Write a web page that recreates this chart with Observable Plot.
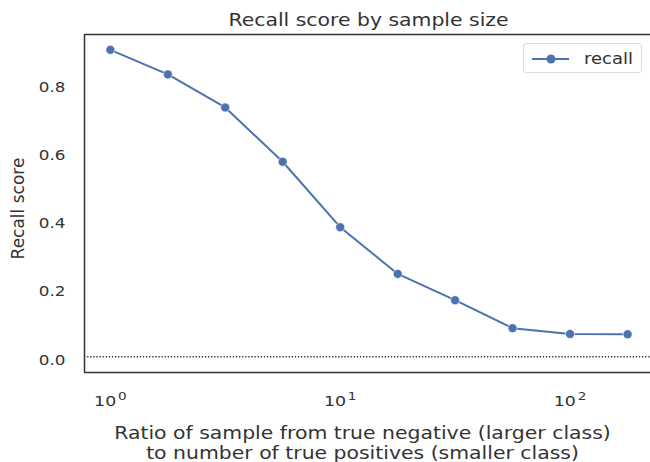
<!DOCTYPE html>
<html>
<head>
<meta charset="utf-8">
<script src="https://cdn.jsdelivr.net/npm/d3@7"></script>
<script src="https://cdn.jsdelivr.net/npm/@observablehq/plot@0.6"></script>
<style>
  html, body { margin: 0; padding: 0; background: #fff; }
  #wrap { position: relative; width: 650px; height: 462px; font-family: "DejaVu Sans", sans-serif; }
  #legend { position: absolute; left: 523px; top: 43px; width: 119px; height: 30px; box-sizing: border-box;
            border: 1px solid #dcdcdc; border-radius: 3px; background: #fff; }
  #legend svg { position: absolute; left: 0; top: 0; }
</style>
</head>
<body>
<div id="wrap"></div>
<script>
const ratios = [1, 1.78, 3.16, 5.62, 10, 17.8, 31.6, 56.2, 100, 178];
const recall = [0.91, 0.838, 0.741, 0.582, 0.39, 0.253, 0.176, 0.094, 0.077, 0.076];
const baseline = [0.01];
const xTicks = [1, 10, 100];
const xTickExponents = ["0", "1", "2"];
const yTicks = [0, 0.2, 0.4, 0.6, 0.8];
const seriesName = "recall";
const titleText = ["Recall score by sample size"];
const xLabel = ["Ratio of sample from true negative (larger class)\nto number of true positives (smaller class)"];
const yLabel = ["Recall score"];

const data = ratios.map((r, i) => ({ratio: r, recall: recall[i]}));
const xDomain = [Math.pow(10, -0.1125), Math.pow(10, 2.35)];
const yDomain = [-0.036, 0.955];
const blue = "#4c72b0";
const ink = "#333333";
const stretch = 1.2;

const chart = Plot.plot({
  width: 650,
  height: 462,
  marginLeft: 84,
  marginRight: 0,
  marginTop: 34,
  marginBottom: 90,
  style: {fontFamily: "DejaVu Sans, sans-serif", fontSize: "13px", color: ink, background: "white"},
  x: {type: "log", domain: xDomain},
  y: {domain: yDomain},
  marks: [
    Plot.axisX(xTicks, {tickSize: 0, tickPadding: 23, tickFormat: (d) => "10^" + xTickExponents[xTicks.indexOf(d)], fontSize: 14.5, label: null, fill: ink}),
    Plot.axisY(yTicks, {tickSize: 0, tickPadding: 19, tickFormat: d3.format(".1f"), fontSize: 14, label: null, fill: ink}),
    Plot.ruleY(baseline, {stroke: ink, strokeWidth: 1.5, strokeDasharray: "1.3,1.8"}),
    Plot.ruleY([yDomain[0], yDomain[1]], {stroke: ink, strokeWidth: 1.5}),
    Plot.ruleX([xDomain[0]], {stroke: ink, strokeWidth: 1.5}),
    Plot.line(data, {x: "ratio", y: "recall", stroke: blue, strokeWidth: 2}),
    Plot.dot(data, {x: "ratio", y: "recall", r: 4.5, fill: blue, stroke: "white", strokeWidth: 0.6}),
    Plot.text(titleText, {frameAnchor: "top", dy: -14, dx: 1, lineAnchor: "middle", textAnchor: "middle", fontSize: 17, fill: ink, text: (d) => d}),
    Plot.text(yLabel, {frameAnchor: "left", dx: -66, dy: 5, rotate: -90, textAnchor: "middle", lineAnchor: "middle", fontSize: 17, fill: ink, text: (d) => d}),
    Plot.text(xLabel, {frameAnchor: "bottom", dy: 70, dx: -5, lineAnchor: "middle", textAnchor: "middle", lineHeight: 1.18, fontSize: 17, fill: ink, text: (d) => d})
  ]
});
const wrap = document.getElementById("wrap");
wrap.appendChild(chart);

// superscript exponents on the x tick labels
chart.querySelectorAll('g[aria-label="x-axis tick label"] text').forEach((t) => {
  const s = t.textContent;
  if (s.includes("^")) {
    const [base, exp] = s.split("^");
    t.textContent = "";
    const a = document.createElementNS("http://www.w3.org/2000/svg", "tspan");
    a.textContent = base;
    const b = document.createElementNS("http://www.w3.org/2000/svg", "tspan");
    b.textContent = exp;
    b.setAttribute("font-size", "0.78em");
    b.setAttribute("dy", "-0.55em");
    b.setAttribute("dx", "1.5");
    t.appendChild(a);
    t.appendChild(b);
  }
});

// horizontal stretch of horizontal texts (the reference image is widened)
function stretchText(t) {
  const bb = t.getBBox();
  const anchor = getComputedStyle(t).textAnchor;
  const ax = anchor === "end" ? bb.x + bb.width : anchor === "middle" ? bb.x + bb.width / 2 : bb.x;
  const prev = t.getAttribute("transform") || "";
  t.setAttribute("transform", `${prev} translate(${ax},0) scale(${stretch},1) translate(${-ax},0)`);
}
chart.querySelectorAll("text").forEach((t) => {
  const tr = t.getAttribute("transform") || "";
  if (tr.includes("rotate")) return;
  stretchText(t);
});

// legend (HTML overlay drawn inside the plot's corner like the reference)
const legend = document.createElement("div");
legend.id = "legend";
legend.innerHTML = `<svg width="119" height="30"><line x1="8" y1="15" x2="45" y2="15" stroke="${blue}" stroke-width="2"/><circle cx="27" cy="15" r="4.5" fill="${blue}"/><text x="60" y="20" font-family="DejaVu Sans, sans-serif" font-size="15" fill="${ink}" transform="translate(60,0) scale(${stretch},1) translate(-60,0)">${seriesName}</text></svg>`;
wrap.appendChild(legend);
</script>
</body>
</html>
